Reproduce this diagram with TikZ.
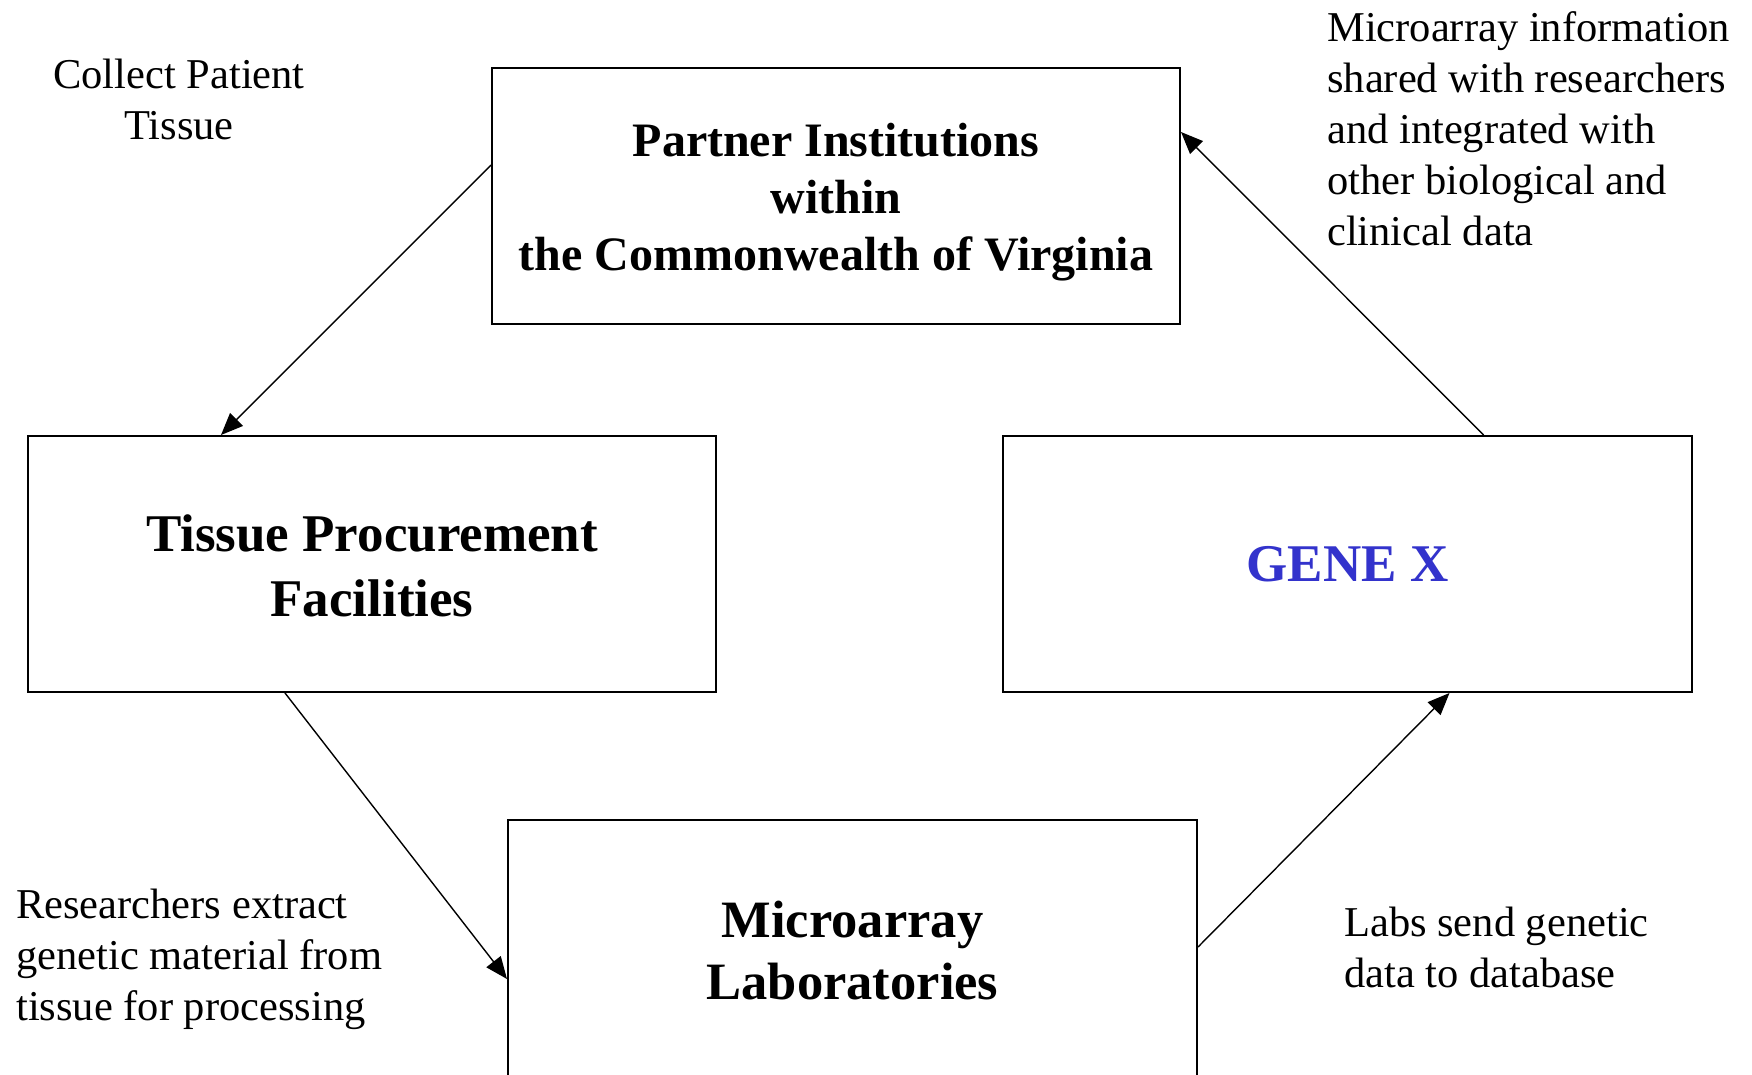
\documentclass[tikz,border=0pt]{standalone}
\usepackage{fontspec}
\setmainfont{Liberation Serif}
\usetikzlibrary{arrows.meta,calc}
\definecolor{genex}{RGB}{51,51,204}
\begin{document}
\begin{tikzpicture}[x=1pt,y=-1pt,
  box/.style={draw,line width=2pt,inner sep=0pt,align=center},
  lbl/.style={inner sep=0pt,font=\fontsize{42.5}{51}\selectfont},
  arr/.style={line width=1.4pt,-{Triangle[length=22pt,width=18pt]}}]
\clip (0,0) rectangle (1752,1074);
\fill[white] (0,0) rectangle (1752,1074);
\node[box,minimum width=688pt,minimum height=256pt,font=\bfseries\fontsize{48}{57}\selectfont] (top) at (836,196) {\rule{0pt}{46pt}Partner Institutions\\within\\the Commonwealth of Virginia};
\node[box,minimum width=688pt,minimum height=256pt,font=\bfseries\fontsize{53}{65}\selectfont] (tis) at (372,564) {\rule{0pt}{40pt}Tissue Procurement\\Facilities};
\node[box,minimum width=689pt,minimum height=256pt,font=\bfseries\fontsize{53}{65}\selectfont,text=genex] (gene) at (1347.5,564) {GENE X};
\node[box,minimum width=689pt,minimum height=262pt,font=\bfseries\fontsize{52.5}{62}\selectfont] (micro) at (852.5,951) {Microarray\\Laboratories};
\node[lbl,align=center] (l1) at (179,99) {Collect Patient\\Tissue};
\node[lbl,align=left,anchor=west] (l2) at (1327,128.5) {Microarray information\\shared with researchers\\and integrated with\\other biological and\\clinical data};
\node[lbl,align=left,anchor=west] (l3) at (16,959) {Researchers extract\\genetic material from\\tissue for processing};
\node[lbl,align=left,anchor=west] (l4) at (1344,947) {Labs send genetic\\data to database};
\draw[arr] ([yshift=31pt]top.west) -- ([xshift=-151pt]tis.north);
\draw[arr] ([xshift=-87pt]tis.south) -- ([yshift=-28pt]micro.west);
\draw[arr] ([yshift=4pt]micro.east) -- ([xshift=102pt]gene.south);
\draw[arr] ([xshift=136pt]gene.north) -- ([yshift=64pt]top.east);
\end{tikzpicture}
\end{document}
